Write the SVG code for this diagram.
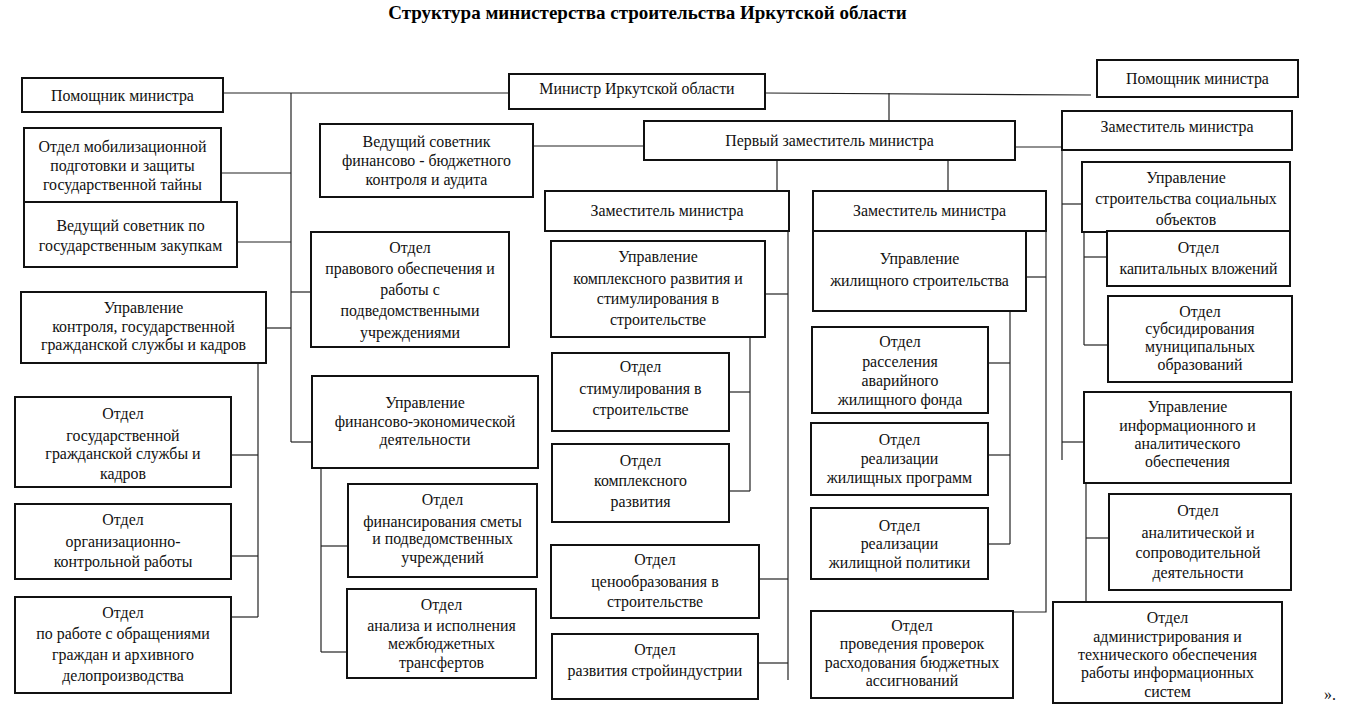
<svg xmlns="http://www.w3.org/2000/svg" width="1350" height="713" viewBox="0 0 1350 713">
<style>
  .bg{fill:#ffffff}
  .box{fill:#ffffff;stroke:#111111;stroke-width:2}
  .t{font-family:"Liberation Serif","Times New Roman",serif;font-size:15.9px;fill:#111111;text-anchor:middle}
  .title{font-family:"Liberation Serif","Times New Roman",serif;font-size:19px;font-weight:bold;fill:#000000;text-anchor:middle}
  .c{fill:none;stroke:#222222;stroke-width:1.2}
</style>
<rect class="bg" x="0" y="0" width="1350" height="713"/>
<text class="title" x="647.5" y="19">Структура министерства строительства Иркутской области</text>

<g id="connectors">
  <path class="c" d="M223 93 H509"/>
  <path class="c" d="M291 93 V442"/>
  <path class="c" d="M221 173 H291"/>
  <path class="c" d="M237 242 H291"/>
  <path class="c" d="M291 292 H311"/>
  <path class="c" d="M266 328 H291"/>
  <path class="c" d="M291 442 H312"/>
  <path class="c" d="M258 363 V617"/>
  <path class="c" d="M231 455 H258"/>
  <path class="c" d="M231 556 H258"/>
  <path class="c" d="M231 617 H258"/>
  <path class="c" d="M321 468 V652"/>
  <path class="c" d="M321 546 H348"/>
  <path class="c" d="M321 652 H347"/>
  <path class="c" d="M533 146 H644"/>
  <path class="c" d="M765 93 L1091 95"/>
  <path class="c" d="M889 93 V121"/>
  <path class="c" d="M777 160 V191"/>
  <path class="c" d="M948 160 V191"/>
  <path class="c" d="M1015 147 H1062"/>
  <path class="c" d="M1062 150 V460"/>
  <path class="c" d="M1062 204 H1082"/>
  <path class="c" d="M1062 442 H1084"/>
  <path class="c" d="M1084 217 V345"/>
  <path class="c" d="M1084 257 H1107"/>
  <path class="c" d="M1084 345 H1108"/>
  <path class="c" d="M1086 483 V602"/>
  <path class="c" d="M1086 538 H1109"/>
  <path class="c" d="M788 231 V680"/>
  <path class="c" d="M765 294 H788"/>
  <path class="c" d="M759 579 H788"/>
  <path class="c" d="M758 663 H788"/>
  <path class="c" d="M750 337 V491"/>
  <path class="c" d="M729 392 H750"/>
  <path class="c" d="M729 491 H750"/>
  <path class="c" d="M1046 231 V612 H1013"/>
  <path class="c" d="M1026 277 H1046"/>
  <path class="c" d="M1010 311 V544"/>
  <path class="c" d="M988 363 H1010"/>
  <path class="c" d="M988 455 H1010"/>
  <path class="c" d="M988 544 H1010"/>
</g>

<g id="pom_l"><rect class="box" x="22" y="78" width="201" height="34"/>
<text class="t"><tspan x="122.5" y="101">Помощник министра</tspan></text></g>

<g id="minister"><rect class="box" x="509" y="74" width="256" height="35"/>
<text class="t"><tspan x="637" y="94">Министр Иркутской области</tspan></text></g>

<g id="pom_r"><rect class="box" x="1097" y="60" width="201" height="37"/>
<text class="t"><tspan x="1197.5" y="84">Помощник министра</tspan></text></g>

<g id="mob"><rect class="box" x="24" y="128" width="197" height="74"/>
<text class="t"><tspan x="122.5" y="152">Отдел мобилизационной</tspan><tspan x="122.5" y="171">подготовки и защиты</tspan><tspan x="122.5" y="190">государственной тайны</tspan></text></g>

<g id="zakup"><rect class="box" x="24" y="202" width="213" height="65"/>
<text class="t"><tspan x="130.5" y="231">Ведущий советник по</tspan><tspan x="130.5" y="251">государственным закупкам</tspan></text></g>

<g id="fin_sov"><rect class="box" x="320" y="124" width="213" height="73"/>
<text class="t"><tspan x="426.5" y="147">Ведущий советник</tspan><tspan x="426.5" y="166">финансово - бюджетного</tspan><tspan x="426.5" y="185">контроля и аудита</tspan></text></g>

<g id="first"><rect class="box" x="644" y="121" width="371" height="39"/>
<text class="t"><tspan x="829.5" y="146">Первый заместитель министра</tspan></text></g>

<g id="zam_r"><rect class="box" x="1062" y="111" width="230" height="39"/>
<text class="t"><tspan x="1177" y="132">Заместитель министра</tspan></text></g>

<g id="zam_ml"><rect class="box" x="545" y="191" width="244" height="40"/>
<text class="t"><tspan x="667" y="216">Заместитель министра</tspan></text></g>

<g id="zam_mr"><rect class="box" x="813" y="191" width="233" height="40"/>
<text class="t"><tspan x="929.5" y="216">Заместитель министра</tspan></text></g>

<g id="prav"><rect class="box" x="311" y="232" width="198" height="115"/>
<text class="t"><tspan x="410" y="253">Отдел</tspan><tspan x="410" y="274">правового обеспечения и</tspan><tspan x="410" y="295">работы с</tspan><tspan x="410" y="316">подведомственными</tspan><tspan x="410" y="338">учреждениями</tspan></text></g>

<g id="kontr"><rect class="box" x="21" y="292" width="245" height="71"/>
<text class="t"><tspan x="143.5" y="313">Управление</tspan><tspan x="143.5" y="332">контроля, государственной</tspan><tspan x="143.5" y="350">гражданской службы и кадров</tspan></text></g>

<g id="kompl_upr"><rect class="box" x="551" y="241" width="214" height="96"/>
<text class="t"><tspan x="658" y="262">Управление</tspan><tspan x="658" y="284">комплексного развития и</tspan><tspan x="658" y="304">стимулирования в</tspan><tspan x="658" y="325">строительстве</tspan></text></g>

<g id="zhil_upr"><rect class="box" x="813" y="231" width="213" height="80"/>
<text class="t"><tspan x="919.5" y="264">Управление</tspan><tspan x="919.5" y="286">жилищного строительства</tspan></text></g>

<g id="soc_upr"><rect class="box" x="1082" y="162" width="208" height="70"/>
<text class="t"><tspan x="1186" y="183">Управление</tspan><tspan x="1186" y="204">строительства социальных</tspan><tspan x="1186" y="225">объектов</tspan></text></g>

<g id="kap"><rect class="box" x="1107" y="231" width="183" height="55"/>
<text class="t"><tspan x="1198.5" y="253">Отдел</tspan><tspan x="1198.5" y="274">капитальных вложений</tspan></text></g>

<g id="subs"><rect class="box" x="1108" y="296" width="184" height="86"/>
<text class="t"><tspan x="1200" y="317">Отдел</tspan><tspan x="1200" y="334">субсидирования</tspan><tspan x="1200" y="352">муниципальных</tspan><tspan x="1200" y="370">образований</tspan></text></g>

<g id="stim"><rect class="box" x="552" y="353" width="177" height="78"/>
<text class="t"><tspan x="640.5" y="372">Отдел</tspan><tspan x="640.5" y="394">стимулирования в</tspan><tspan x="640.5" y="415">строительстве</tspan></text></g>

<g id="rassel"><rect class="box" x="812" y="327" width="176" height="86"/>
<text class="t"><tspan x="900" y="347">Отдел</tspan><tspan x="900" y="367">расселения</tspan><tspan x="900" y="386">аварийного</tspan><tspan x="900" y="405">жилищного фонда</tspan></text></g>

<g id="finupr"><rect class="box" x="312" y="376" width="226" height="92"/>
<text class="t"><tspan x="425" y="408">Управление</tspan><tspan x="425" y="427">финансово-экономической</tspan><tspan x="425" y="445">деятельности</tspan></text></g>

<g id="gosgr"><rect class="box" x="15" y="397" width="216" height="90"/>
<text class="t"><tspan x="123" y="419">Отдел</tspan><tspan x="123" y="441">государственной</tspan><tspan x="123" y="459">гражданской службы и</tspan><tspan x="123" y="479">кадров</tspan></text></g>

<g id="inf_upr"><rect class="box" x="1084" y="392" width="207" height="91"/>
<text class="t"><tspan x="1187.5" y="412">Управление</tspan><tspan x="1187.5" y="431">информационного и</tspan><tspan x="1187.5" y="449">аналитического</tspan><tspan x="1187.5" y="467">обеспечения</tspan></text></g>

<g id="prog"><rect class="box" x="811" y="423" width="177" height="72"/>
<text class="t"><tspan x="899.5" y="445">Отдел</tspan><tspan x="899.5" y="464">реализации</tspan><tspan x="899.5" y="483">жилищных программ</tspan></text></g>

<g id="komp_otd"><rect class="box" x="552" y="444" width="177" height="78"/>
<text class="t"><tspan x="640.5" y="466">Отдел</tspan><tspan x="640.5" y="486">комплексного</tspan><tspan x="640.5" y="507">развития</tspan></text></g>

<g id="smeta"><rect class="box" x="348" y="484" width="189" height="93"/>
<text class="t"><tspan x="442.5" y="505">Отдел</tspan><tspan x="442.5" y="527">финансирования сметы</tspan><tspan x="442.5" y="544">и подведомственных</tspan><tspan x="442.5" y="563">учреждений</tspan></text></g>

<g id="anal"><rect class="box" x="1109" y="494" width="182" height="96"/>
<text class="t"><tspan x="1198" y="516">Отдел</tspan><tspan x="1198" y="538">аналитической и</tspan><tspan x="1198" y="558">сопроводительной</tspan><tspan x="1198" y="578">деятельности</tspan></text></g>

<g id="orgk"><rect class="box" x="15" y="504" width="216" height="75"/>
<text class="t"><tspan x="123" y="525">Отдел</tspan><tspan x="123" y="547">организационно-</tspan><tspan x="123" y="567">контрольной работы</tspan></text></g>

<g id="polit"><rect class="box" x="811" y="508" width="177" height="71"/>
<text class="t"><tspan x="899.5" y="531">Отдел</tspan><tspan x="899.5" y="549">реализации</tspan><tspan x="899.5" y="568">жилищной политики</tspan></text></g>

<g id="ceno"><rect class="box" x="551" y="545" width="208" height="73"/>
<text class="t"><tspan x="655" y="565">Отдел</tspan><tspan x="655" y="587">ценообразования в</tspan><tspan x="655" y="607">строительстве</tspan></text></g>

<g id="mezhb"><rect class="box" x="347" y="589" width="189" height="89"/>
<text class="t"><tspan x="441.5" y="610">Отдел</tspan><tspan x="441.5" y="631">анализа и исполнения</tspan><tspan x="441.5" y="649">межбюджетных</tspan><tspan x="441.5" y="668">трансфертов</tspan></text></g>

<g id="obr"><rect class="box" x="15" y="597" width="216" height="96"/>
<text class="t"><tspan x="123" y="618">Отдел</tspan><tspan x="123" y="639">по работе с обращениями</tspan><tspan x="123" y="660">граждан и архивного</tspan><tspan x="123" y="681">делопроизводства</tspan></text></g>

<g id="admin"><rect class="box" x="1053" y="602" width="229" height="101"/>
<text class="t"><tspan x="1167.5" y="623">Отдел</tspan><tspan x="1167.5" y="642">администрирования и</tspan><tspan x="1167.5" y="660">технического обеспечения</tspan><tspan x="1167.5" y="678">работы информационных</tspan><tspan x="1167.5" y="697">систем</tspan></text></g>

<g id="stroiind"><rect class="box" x="552" y="634" width="206" height="65"/>
<text class="t"><tspan x="655" y="655">Отдел</tspan><tspan x="655" y="676">развития стройиндустрии</tspan></text></g>

<g id="prov"><rect class="box" x="811" y="611" width="202" height="87"/>
<text class="t"><tspan x="912" y="631">Отдел</tspan><tspan x="912" y="649">проведения проверок</tspan><tspan x="912" y="668">расходования бюджетных</tspan><tspan x="912" y="686">ассигнований</tspan></text></g>

<text class="t" x="1330" y="700">».</text>
</svg>
